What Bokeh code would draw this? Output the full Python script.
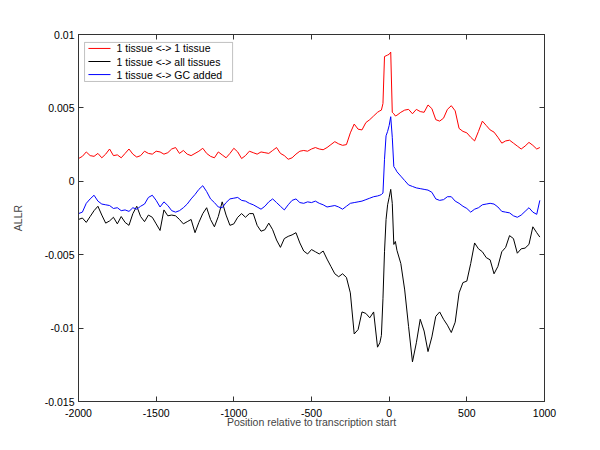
import numpy as np
from bokeh.plotting import figure
from bokeh.models import (Range1d, FixedTicker, LinearAxis, ColumnDataSource,
                          BoxAnnotation, Label)
from bokeh.embed import file_html
from bokeh.resources import INLINE

# sample positions (relative to transcription start)
pos = (list(range(-2000, -50, 25)) + [-60, -50, -40, -30, -20, -10, 0, 10, 20, 30, 40]
       + list(range(50, 951, 25)) + [970])

# values in units of 1e-3
red = [1.55, 1.7, 2.0, 1.75, 1.7, 1.9, 1.6, 1.85, 2.2, 1.75, 1.8, 1.6, 1.9, 2.2, 1.85, 1.65,
       1.75, 2.05, 1.9, 1.85, 2.05, 2.0, 1.85, 1.95, 2.2, 2.3, 1.9, 2.1, 1.85, 1.75, 1.9, 2.05,
       2.25, 1.9, 1.7, 1.6, 2.0, 1.8, 1.6, 1.9, 2.25, 2.0, 1.55, 1.75, 2.05, 1.95, 1.85, 2.0,
       1.95, 1.9, 2.1, 2.3, 1.9, 1.75, 1.5, 1.6, 1.85, 2.05, 2.1, 2.05, 2.2, 2.3, 2.2, 2.15,
       2.3, 2.5, 2.7, 2.55, 2.45, 2.5, 3.3, 3.9, 3.55, 3.5, 4.0, 4.2, 4.45, 4.7,
       4.8, 4.85, 5.3, 8.5, 8.55, 8.6, 8.65, 8.8, 4.7, 4.6, 4.45,
       4.5, 4.7, 4.85, 4.9, 4.6, 4.9, 4.75, 4.7, 5.2, 4.95, 4.2, 4.1, 4.3, 4.9, 5.15, 4.8,
       3.6, 3.4, 3.3, 3.0, 2.75, 3.4, 4.1, 3.8, 3.5, 3.35, 3.0, 2.6, 2.75, 2.8, 2.6, 2.4,
       2.2, 2.4, 2.65, 2.45, 2.2, 2.3]

black = [-2.6, -2.5, -2.8, -2.4, -2.0, -1.7, -2.3, -2.85, -2.7, -2.45, -2.9, -2.4, -2.8, -3.0,
         -2.2, -1.7, -2.4, -2.75, -2.3, -2.45, -2.9, -3.35, -1.95, -2.35, -2.3, -2.35, -2.6,
         -2.9, -2.75, -2.6, -3.5, -2.8, -2.2, -1.8, -2.6, -3.1, -2.4, -1.4, -2.3, -3.0, -2.9,
         -2.45, -2.2, -2.45, -2.2, -2.2, -3.0, -3.4, -3.3, -2.85, -3.3, -4.0, -4.5, -3.9,
         -3.75, -3.65, -3.5, -4.2, -4.75, -4.95, -4.65, -4.8, -4.95, -4.75, -5.3, -5.8, -6.3,
         -6.5, -6.3, -6.55, -7.6, -10.4, -10.1, -8.9, -9.0, -9.3, -8.9, -11.3,
         -11.0, -10.5, -8.0, -4.8, -2.6, -1.6, -1.1, -0.55, -1.5, -4.3, -4.1,
         -4.7, -5.6, -7.4, -9.9, -12.3, -11.0, -9.4, -10.2, -11.6, -10.6, -9.2, -8.9, -9.4,
         -9.8, -10.3, -9.6, -7.6, -6.9, -6.8, -5.6, -4.2, -4.6, -4.8, -5.2, -5.35, -6.3, -5.8,
         -4.8, -4.5, -3.7, -3.9, -4.9, -4.6, -4.55, -4.3, -3.1, -3.5, -3.8]

blue = [-2.2, -2.1, -1.5, -1.2, -0.95, -1.35, -1.55, -1.6, -1.65, -1.85, -1.8, -2.0, -1.95,
        -2.05, -1.8, -1.9, -1.7, -1.55, -1.1, -0.95, -1.3, -1.75, -1.4, -1.65, -2.0, -2.1,
        -2.0, -1.8, -1.55, -1.2, -0.9, -0.55, -0.3, -0.7, -1.2, -1.45, -1.75, -1.8, -1.45,
        -1.2, -1.15, -1.1, -1.3, -1.35, -1.5, -1.6, -1.75, -1.9, -1.7, -1.4, -1.2, -1.45,
        -1.7, -1.95, -1.6, -1.3, -1.2, -1.45, -1.5, -1.4, -1.45, -1.35, -1.5, -1.6, -1.75,
        -1.7, -1.65, -1.75, -1.9, -1.7, -1.5, -1.45, -1.4, -1.35, -1.25, -1.15, -1.05, -1.0,
        -0.95, -0.9, -0.8, 1.5, 3.1, 3.4, 3.8, 4.4, 3.0, 1.0, 0.85,
        0.65, 0.35, 0.05, -0.25, -0.35, -0.45, -0.5, -0.55, -0.6, -0.75, -1.2, -1.3, -1.25,
        -1.05, -1.05, -1.35, -1.5, -1.7, -1.85, -2.1, -1.9, -1.8, -1.6, -1.55, -1.5, -1.55,
        -1.75, -2.05, -2.1, -2.15, -2.35, -2.45, -2.3, -2.05, -1.8, -2.1, -2.25, -1.3]

series_labels = ["1 tissue <-> 1 tissue", "1 tissue <-> all tissues", "1 tissue <-> GC added"]
series_colors = ["#ff0000", "#000000", "#0000ff"]
x_ticks = [-2000, -1500, -1000, -500, 0, 500, 1000]
y_ticks = [-0.015, -0.01, -0.005, 0, 0.005, 0.01]
y_tick_labels = ["-0.015", "-0.01", "-0.005", "0", "0.005", "0.01"]

FONT = "Liberation Sans"
FS = "10.5px"
AX = "#333333"

p = figure(width=584, height=434, output_backend="svg", toolbar_location=None,
           x_range=Range1d(-2000, 1000), y_range=Range1d(-0.015, 0.01),
           min_border_left=78, min_border_top=34, min_border_right=40, min_border_bottom=33)
p.background_fill_color = "white"
p.border_fill_color = "white"
p.outline_line_color = AX
p.xgrid.visible = False
p.ygrid.visible = False

for vals, col in zip([red, black, blue], series_colors):
    src = ColumnDataSource(dict(x=pos, y=[v * 1e-3 for v in vals]))
    p.line("x", "y", source=src, line_color=col, line_width=1)


def style(ax, ticks, show):
    ax.ticker = FixedTicker(ticks=ticks)
    ax.minor_tick_line_color = None
    ax.major_tick_in = 5
    ax.major_tick_out = 0
    ax.axis_line_color = AX
    ax.major_tick_line_color = AX
    ax.major_label_text_font = FONT
    ax.major_label_text_font_size = FS
    ax.major_label_text_color = "black" if show else None
    ax.axis_label_text_font = FONT
    ax.axis_label_text_font_size = FS
    ax.axis_label_text_font_style = "normal"


xa = p.xaxis[0]
style(xa, x_ticks, True)
xa.major_label_overrides = {t: str(t) for t in x_ticks}
xa.major_label_standoff = 7
xa.axis_label = "Position relative to transcription start"
xa.axis_label_standoff = -4

ya = p.yaxis[0]
style(ya, y_ticks, True)
ya.major_label_overrides = dict(zip(y_ticks, y_tick_labels))
ya.major_label_standoff = 4
ya.axis_label = "ALLR"
ya.axis_label_standoff = 18

top = LinearAxis()
style(top, x_ticks, False)
p.add_layout(top, "above")
right = LinearAxis()
style(right, y_ticks, False)
p.add_layout(right, "right")

# legend box (placed in the upper-left corner, in axis coordinates)
LG_LEFT, LG_RIGHT, LG_TOP, LG_BOTTOM = -1961, -1008, 0.00946, 0.00680
LG_SAMPLE_X0, LG_SAMPLE_X1, LG_TEXT_X = -1936, -1794, -1755
LG_ROWS = [0.00905, 0.00816, 0.00727]

p.add_layout(BoxAnnotation(left=LG_LEFT, right=LG_RIGHT, top=LG_TOP, bottom=LG_BOTTOM,
                           fill_color="white", fill_alpha=1, line_color=AX, line_width=1,
                           level="annotation"))
p.segment(x0=[LG_SAMPLE_X0] * 3, x1=[LG_SAMPLE_X1] * 3, y0=LG_ROWS, y1=LG_ROWS,
          line_color=series_colors, line_width=1, level="overlay")
for yrow, lab in zip(LG_ROWS, series_labels):
    p.add_layout(Label(x=LG_TEXT_X, y=yrow, text=lab, text_font=FONT, text_font_size=FS,
                       text_baseline="middle", text_align="left", text_color="black",
                       level="overlay"))

open("out.html", "w").write(file_html(p, INLINE))
